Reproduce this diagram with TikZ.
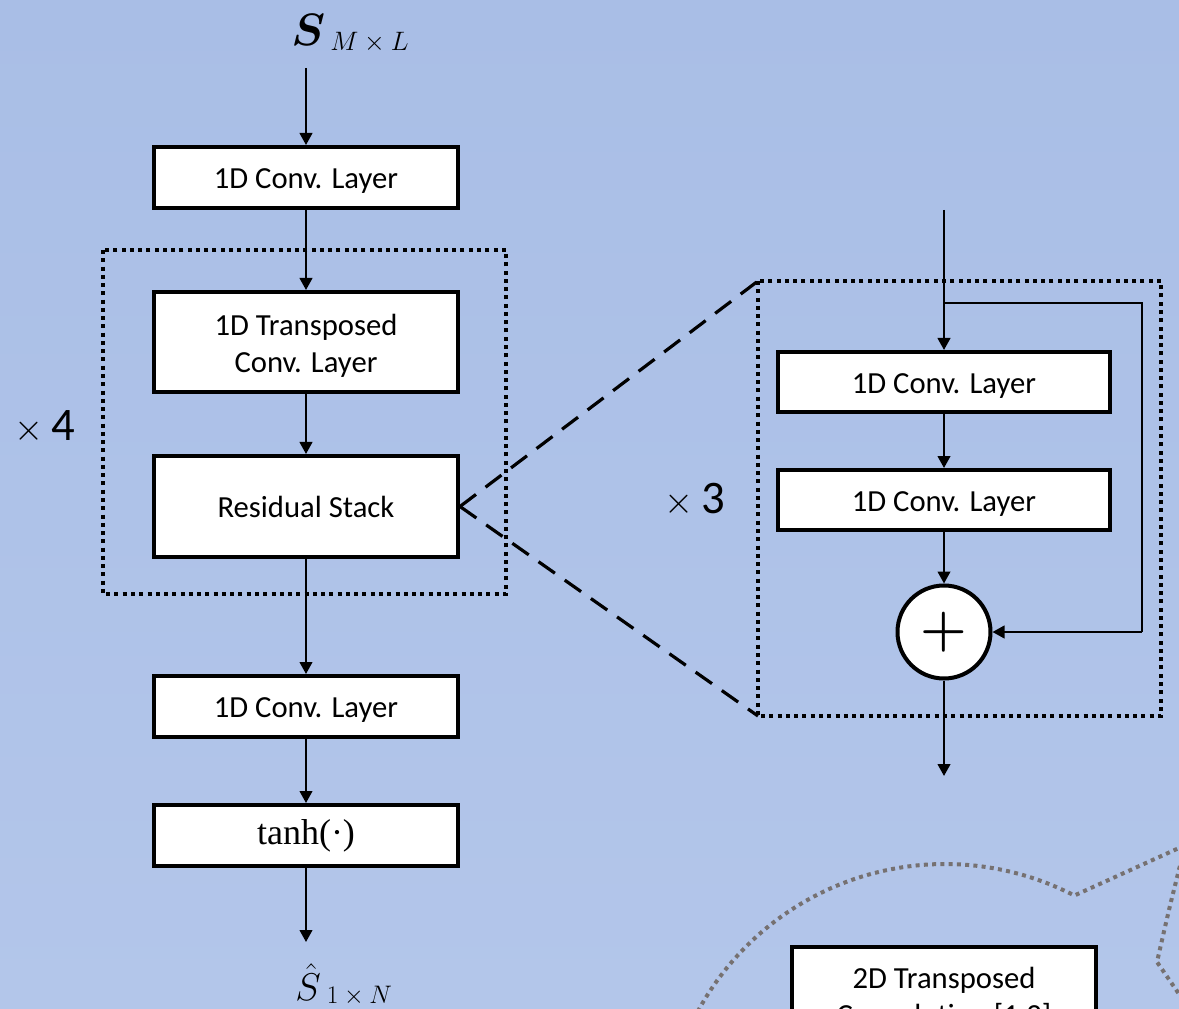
\RequirePackage{fix-cm}
\documentclass[tikz,border=0pt]{standalone}
\usepackage{amsmath}
\usepackage{bm}
\usepackage[no-math]{fontspec}
\setmainfont{Carlito}
\newfontfamily\mathlike{Liberation Serif}
\usetikzlibrary{arrows.meta,calc}
\definecolor{bgtop}{HTML}{A9BEE6}
\definecolor{bgbot}{HTML}{B3C6EA}
\definecolor{dotgray}{HTML}{767171}
\newcommand{\topstrut}{\rule{0pt}{21.5pt}}
\begin{document}
\begin{tikzpicture}[x=0.75pt,y=-0.75pt,
  blk/.style={draw, fill=white, line width=3pt, inner sep=0pt, align=center,
    font=\fontsize{23}{28}\selectfont},
  one/.style={text height=21.5pt, text depth=5pt},
  lbox/.style={blk, minimum width={304*0.75pt}},
  rbox/.style={blk, one, minimum width={332*0.75pt}, minimum height={60*0.75pt}},
  conn/.style={line width=1.6pt, -{Triangle[length=9pt,width=9.5pt]}},
  plain/.style={line width=1.6pt},
  dotbox/.style={line width=3pt, dash pattern=on 3pt off 3.2pt},
  zoomline/.style={line width=2.4pt, dash pattern=on 15pt off 9pt},
  graydot/.style={draw=dotgray, line width=3pt, dash pattern=on 3pt off 3.2pt},
  rep/.style={font=\fontsize{35}{40}\selectfont, inner sep=0pt}
]
\useasboundingbox (0,0) rectangle (1179,1009);
\clip (0,0) rectangle (1179,1009);
\shade[top color=bgtop, bottom color=bgbot] (0,0) rectangle (1179,1009);

% ---------- left column ----------
\node[inner sep=0pt, anchor=base west, font=\fontsize{34}{40}\selectfont] (sin) at (291,46) {$\bm{S}$};
\node[inner sep=0pt, anchor=base west, font=\fontsize{20}{24}\selectfont] (sinsub) at (330,51) {$M\times L$};
\coordinate (inp) at (306,68);

\node[lbox, one, minimum height={61*0.75pt}] (b1) at (306,177.5) {1D Conv. Layer};
\node[lbox, minimum height={100*0.75pt}] (b2) at (306,342) {\topstrut 1D Transposed\\Conv. Layer};
\node[lbox, one, minimum height={101*0.75pt}] (b3) at (306,506.5) {Residual Stack};
\node[lbox, one, minimum height={61*0.75pt}] (b4) at (306,706.5) {1D Conv. Layer};
\node[lbox, minimum height={61*0.75pt}, font=\fontsize{27}{30}\mathlike] (b5) at (306,835.5) {tanh(·)};
\coordinate (outp) at (306,942);
\node[inner sep=0pt, anchor=base west, font=\fontsize{29}{34}\selectfont] (sout) at (295,1000)
  {$\hat{S}$\hspace{4.5pt}\raisebox{-2.25pt}{\fontsize{19}{22}\selectfont$1\times N$}};

\draw[conn] (inp) -- (b1.north);
\draw[conn] (b1.south) -- (b2.north);
\draw[conn] (b2.south) -- (b3.north);
\draw[conn] (b3.south) -- (b4.north);
\draw[conn] (b4.south) -- (b5.north);
\draw[conn] (b5.south) -- (outp);

\coordinate (lb1) at (103,250);
\coordinate (lb2) at (506,594);
\draw[dotbox] (lb1) rectangle (lb2);
\node[rep] (x4) at (45,427) {{\fontsize{28}{30}\selectfont$\times$}\,4};

% ---------- right detail ----------
\coordinate (rtop) at (944,210);
\coordinate (rb1) at (758,281);
\coordinate (rb2) at (1161,716);
\coordinate (rbl) at (758,716);
\draw[dotbox] (rb1) rectangle (rb2);

\node[rbox] (r1) at (944,382) {1D Conv. Layer};
\node[rbox] (r2) at (944,500) {1D Conv. Layer};
\node[circle, draw, fill=white, line width=3pt, minimum size={93*0.75pt}, inner sep=0pt,
      font=\fontsize{40}{44}\selectfont\boldmath] (plus) at (944,632) {$+$};
\coordinate (rout) at (944,776);
\coordinate (split) at (944,303);
\coordinate (sk1) at (1142,303);
\coordinate (sk2) at (1142,632);

\draw[conn] (rtop) -- (r1.north);
\draw[conn] (r1.south) -- (r2.north);
\draw[conn] (r2.south) -- (plus.north);
\draw[conn] (plus.south) -- (rout);
\draw[plain] (split) -- (sk1) -- (sk2);
\draw[conn] (sk2) -- (plus.east);
\node[rep] (x3) at (695,500) {{\fontsize{28}{30}\selectfont$\times$}\,3};

\draw[zoomline] (b3.east) -- (rb1);
\draw[zoomline] (b3.east) -- (rbl);

% ---------- bottom right (cut-off) ----------
\draw[graydot] plot[domain=205:297.4, samples=80] ({945+281*cos(\x)},{1145+281*sin(\x)}) -- (1190,843);
\draw[graydot] (1184,850) .. controls (1170,905) .. (1157,962) -- (1190,1010);
\node[blk, minimum width={304*0.75pt}, minimum height={96*0.75pt}, anchor=north] (b6) at (944,945)
  {\topstrut 2D Transposed\\Convolution [1,2]};
\end{tikzpicture}
\end{document}
